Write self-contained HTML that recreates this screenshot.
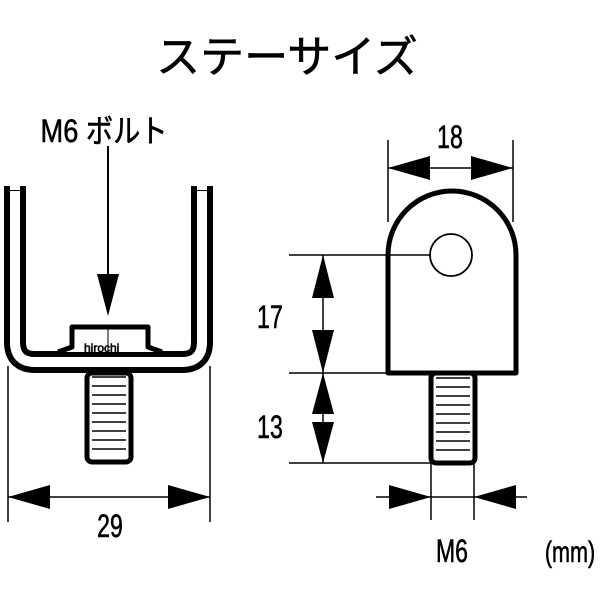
<!DOCTYPE html>
<html><head><meta charset="utf-8"><style>
html,body{margin:0;padding:0;background:#fff;}
svg{display:block;}
text{font-family:"Liberation Sans","Noto Sans CJK JP",sans-serif;fill:#000;stroke:#000;stroke-width:0.6;}
</style></head><body>
<svg width="600" height="600" viewBox="0 0 600 600" xmlns="http://www.w3.org/2000/svg">
<!-- title -->
<text x="287" y="72" font-size="44" text-anchor="middle">ステーサイズ</text>
<text x="104" y="142" font-size="32" text-anchor="middle" transform="translate(104,0) scale(0.85,1) translate(-104,0)">M6 ボルト</text>

<!-- U bracket -->
<path d="M15,186 V342 Q15,362 35,362 H182 Q202,362 202,342 V186" fill="none" stroke="#000" stroke-width="22" stroke-linejoin="round"/>
<path d="M15,191 V342 Q15,362 35,362 H182 Q202,362 202,342 V191" fill="none" stroke="#fff" stroke-width="10"/>
<rect x="10" y="186" width="10" height="4" fill="#fff"/>
<rect x="197" y="186" width="10" height="4" fill="#fff"/>
<!-- nut -->
<path d="M58,352 L72,347 V327 H148 V347 L162,352" fill="#fff" stroke="#000" stroke-width="5" stroke-linejoin="round"/>
<line x1="108" y1="327" x2="108" y2="352" stroke="#000" stroke-width="1"/>
<text x="84" y="352" font-size="12" stroke-width="0">hirochi</text>
<!-- bolt left -->
<rect x="87" y="373" width="44" height="89" rx="5" fill="#fff" stroke="#000" stroke-width="5"/>
<g stroke="#000" stroke-width="1.5">
<line x1="92" y1="377" x2="126" y2="377"/><line x1="92" y1="386" x2="126" y2="386"/><line x1="92" y1="395" x2="126" y2="395"/><line x1="92" y1="404" x2="126" y2="404"/><line x1="92" y1="413" x2="126" y2="413"/><line x1="92" y1="422" x2="126" y2="422"/><line x1="92" y1="431" x2="126" y2="431"/><line x1="92" y1="440" x2="126" y2="440"/><line x1="92" y1="449" x2="126" y2="449"/>
</g>
<!-- arrow down -->
<line x1="108" y1="146" x2="108" y2="280" stroke="#000" stroke-width="2"/>
<polygon points="97,274 119,274 108,316" fill="#000"/>
<!-- 29 dim -->
<line x1="8" y1="366" x2="8" y2="522" stroke="#000" stroke-width="1.5"/>
<line x1="210" y1="366" x2="210" y2="522" stroke="#000" stroke-width="1.5"/>
<line x1="8" y1="497" x2="210" y2="497" stroke="#000" stroke-width="1.5"/>
<polygon points="8,497 50,485 50,509" fill="#000"/>
<polygon points="210,497 168,485 168,509" fill="#000"/>
<text x="110" y="537" font-size="32" text-anchor="middle" transform="translate(110,0) scale(0.72,1) translate(-110,0)">29</text>

<!-- right part -->
<path d="M388,373 V255 A64,64 0 0 1 516,255 V373 Z" fill="#fff" stroke="#000" stroke-width="5" stroke-linejoin="round"/>
<circle cx="451" cy="255" r="21" fill="#fff" stroke="#000" stroke-width="1.8"/>
<rect x="431" y="373" width="44" height="90" rx="5" fill="#fff" stroke="#000" stroke-width="5"/>
<g stroke="#000" stroke-width="1.5">
<line x1="436" y1="378" x2="470" y2="378"/><line x1="436" y1="387" x2="470" y2="387"/><line x1="436" y1="396" x2="470" y2="396"/><line x1="436" y1="405" x2="470" y2="405"/><line x1="436" y1="414" x2="470" y2="414"/><line x1="436" y1="423" x2="470" y2="423"/><line x1="436" y1="432" x2="470" y2="432"/><line x1="436" y1="441" x2="470" y2="441"/><line x1="436" y1="450" x2="470" y2="450"/>
</g>
<g stroke="#000" stroke-width="1.5">
<line x1="289" y1="255" x2="430" y2="255"/>
<line x1="289" y1="373" x2="388" y2="373"/>
<line x1="289" y1="463" x2="431" y2="463"/>
<line x1="323" y1="255" x2="323" y2="463"/>
<line x1="388" y1="140" x2="388" y2="222"/>
<line x1="513" y1="140" x2="513" y2="222"/>
<line x1="388" y1="168" x2="513" y2="168"/>
<line x1="431" y1="463" x2="431" y2="520"/>
<line x1="474" y1="463" x2="474" y2="520"/>
<line x1="376" y1="497" x2="527" y2="497"/>
</g>
<polygon points="323,255 312,298 334,298" fill="#000"/>
<polygon points="323,373 312,330 334,330" fill="#000"/>
<polygon points="323,373 312,414 334,414" fill="#000"/>
<polygon points="323,463 312,422 334,422" fill="#000"/>
<polygon points="388,168 430,156 430,180" fill="#000"/>
<polygon points="513,168 471,156 471,180" fill="#000"/>
<polygon points="431,497 389,485 389,509" fill="#000"/>
<polygon points="474,497 516,485 516,509" fill="#000"/>
<text x="270" y="328" font-size="32" text-anchor="middle" transform="translate(270,0) scale(0.72,1) translate(-270,0)">17</text>
<text x="270" y="438" font-size="32" text-anchor="middle" transform="translate(270,0) scale(0.72,1) translate(-270,0)">13</text>
<text x="450" y="148" font-size="32" text-anchor="middle" transform="translate(450,0) scale(0.72,1) translate(-450,0)">18</text>
<text x="452" y="562" font-size="32" text-anchor="middle" transform="translate(452,0) scale(0.72,1) translate(-452,0)">M6</text>
<text x="570" y="562" font-size="30" text-anchor="middle" transform="translate(570,0) scale(0.72,1) translate(-570,0)">(mm)</text>
</svg>
</body></html>
